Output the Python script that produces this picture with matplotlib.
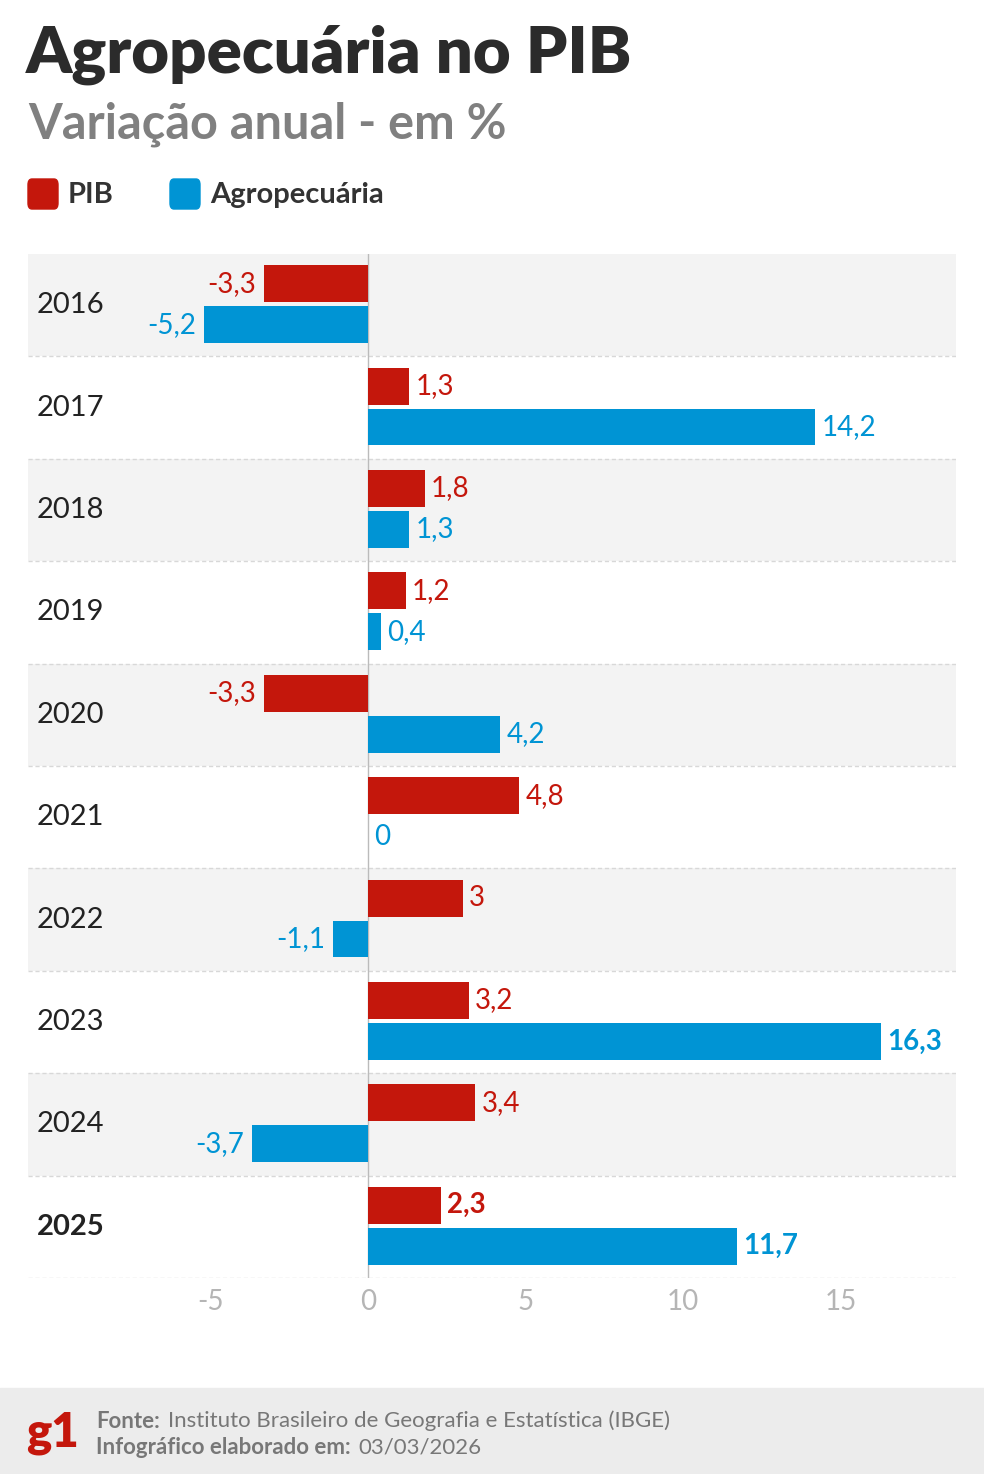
import matplotlib.pyplot as plt
import matplotlib.patches as patches

anos = ['2016', '2017', '2018', '2019', '2020', '2021', '2022', '2023', '2024', '2025']
pib = [-3.3, 1.3, 1.8, 1.2, -3.3, 4.8, 3.0, 3.2, 3.4, 2.3]
agro = [-5.2, 14.2, 1.3, 0.4, 4.2, 0.0, -1.1, 16.3, -3.7, 11.7]
xticks = [-5, 0, 5, 10, 15]

RED = '#c4170c'
BLUE = '#0094d4'
plt.rcParams['font.family'] = ['Lato', 'DejaVu Sans']

def fmt(v):
    s = ('%.1f' % v).replace('.', ',')
    if s.endswith(',0'):
        s = s[:-2]
    return s

fig = plt.figure(figsize=(9.84, 14.74), dpi=100)
W, H = 984, 1474
ax = fig.add_axes([28 / W, 196 / H, 928 / W, 1024 / H])
ax.set_xlim(-10.8, 18.67)
ax.set_ylim(len(anos), 0)

for i, ano in enumerate(anos):
    if i % 2 == 0:
        ax.axhspan(i, i + 1, color='#f3f3f3', zorder=0, lw=0)
    ax.axhline(i + 1, color='#d8d8d8', ls=(0, (3, 2)), lw=1, zorder=1)
    bold = 'bold' if ano == '2025' else 'normal'
    ax.text(-9.45, i + 0.5, ano, ha='center', va='center', fontsize=21,
            color='#222222', fontweight=bold)

ax.barh([i + 0.29 for i in range(len(anos))], pib, height=0.36, color=RED, zorder=2)
ax.barh([i + 0.69 for i in range(len(anos))], agro, height=0.36, color=BLUE, zorder=2)

for i, (p, a) in enumerate(zip(pib, agro)):
    for v, y, c in ((p, i + 0.29, RED), (a, i + 0.69, BLUE)):
        bold = 'bold' if (anos[i] == '2025' or v == max(agro)) else 'normal'
        off = 0.2 if v >= 0 else -0.25
        ax.text(v + off, y, fmt(v), ha='left' if v >= 0 else 'right', va='center',
                fontsize=20, color=c, fontweight=bold, zorder=3)

ax.axvline(0, color='#bbbbbb', lw=1, zorder=1.5)
ax.set_xticks(xticks)
ax.set_xticklabels([str(t) for t in xticks], fontsize=20, color='#b5b5b5')
ax.tick_params(axis='x', length=0, pad=8)
ax.set_yticks([])
for s in ax.spines.values():
    s.set_visible(False)

fig.text(26 / W, 1 - 55 / H, 'Agropecuária no PIB', fontsize=47, fontweight='heavy',
         color='#2b2b2b', va='center')
fig.text(28 / W, 1 - 124 / H, 'Variação anual - em %', fontsize=35, fontweight='bold',
         color='#808080', va='center')

for x0, lab, c in ((28, 'PIB', RED), (170, 'Agropecuária', BLUE)):
    fig.patches.append(patches.FancyBboxPatch((x0 / W, 1 - 209 / H), 30 / W, 30 / H,
                       boxstyle='round,pad=0,rounding_size=0.004', transform=fig.transFigure,
                       color=c, figure=fig))
    fig.text((x0 + 40) / W, 1 - 195 / H, lab, fontsize=21, fontweight='bold',
             color='#333333', va='center')

fig.patches.append(patches.Rectangle((0, 0), 1, 86 / H, transform=fig.transFigure,
                   color='#ececec', figure=fig, zorder=0))
fig.text(26 / W, 1 - 1433 / H, 'g1', fontsize=34, fontweight='heavy', color=RED,
         va='center')
fig.text(96 / W, 1 - 1421 / H, 'Fonte:', fontsize=16, fontweight='bold',
         color='#777777', va='center')
fig.text(96 / W, 1 - 1447 / H, 'Infográfico elaborado em:', fontsize=16,
         fontweight='bold', color='#777777', va='center')
fig.text(168 / W, 1 - 1421 / H, 'Instituto Brasileiro de Geografia e Estatística (IBGE)',
         fontsize=16, color='#777777', va='center')
fig.text(358 / W, 1 - 1447 / H, '03/03/2026', fontsize=16, color='#777777', va='center')

fig.savefig('out.png', dpi=100)
